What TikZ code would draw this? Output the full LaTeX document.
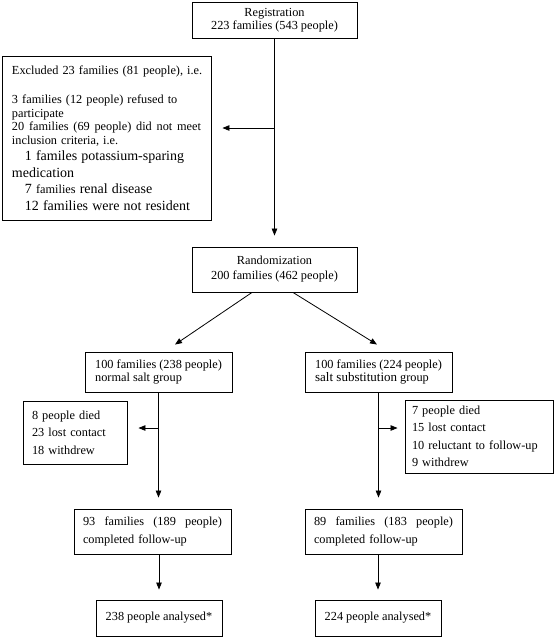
\documentclass[tikz,border=0pt]{standalone}
\usepackage{fontspec}
\setmainfont{Liberation Serif}
\usetikzlibrary{arrows.meta,calc}
\setlength{\parindent}{0pt}
\newcommand\fsA{\fontsize{12.3}{13.5}\selectfont}
\newcommand\fsB{\fontsize{14}{16.5}\selectfont}
\newcommand\fsD{\fontsize{12.3}{17.5}\selectfont}
\begin{document}
\begin{tikzpicture}[x=1pt,y=1pt,
  box/.style={draw, line width=0.9pt, inner sep=0pt, font=\fsA},
  arr/.style={line width=0.8pt, -{Triangle[length=7pt,width=5.5pt]}}]
\useasboundingbox (0,0) rectangle (554,-638);

\node[box, minimum width=165pt, minimum height=36pt, align=center,
      font=\fontsize{12.3}{13}\selectfont] (reg) at (274.5,-20)
  {Registration\\223 families (543 people)};

\node[box, minimum width=209pt, minimum height=164pt, text width=189pt, align=left] (excl) at (106.5,-138)
  {\fsA \hbox to 189pt{Excluded 23 families (81 people), i.e.\hss}\par
   \vspace{15.5pt}
   3 families (12 people) refused to\par
   participate\par
   \hbox to 189pt{20\hfill families\hfill (69\hfill people)\hfill did\hfill not\hfill meet}\par
   inclusion criteria, i.e.\par
   {\fsB\hspace*{13pt}1 familes potassium-sparing\par
   medication\par
   \hspace*{13pt}7 {\fsA families} renal disease\par
   \hspace*{13pt}12 families were not resident\par}};

\node[box, minimum width=165pt, minimum height=45pt, align=center,
      font=\fontsize{12.3}{15}\selectfont] (rand) at (274.5,-269.5)
  {Randomization\\200 families (462 people)};

\node[box, minimum width=147pt, minimum height=40pt, align=left,
      font=\fontsize{12.3}{13}\selectfont] (gl) at (158.5,-372)
  {100 families (238 people)\\normal salt group};
\node[box, minimum width=147pt, minimum height=40pt, align=left,
      font=\fontsize{12.3}{13}\selectfont] (gr) at (378.5,-372)
  {100 families (224 people)\\{\fontsize{13}{13}\selectfont salt substitution} group};

\node[box, minimum width=104pt, minimum height=63pt, text width=86pt, align=left, font=\fsD] (dl) at (75,-432.5)
  {8 people died\\23 lost contact\\18 withdrew};
\node[box, minimum width=148pt, minimum height=73pt, text width=134pt, align=left, font=\fsD] (dr) at (479,-436.5)
  {7 people died\\15 lost contact\\10 reluctant to follow-up\\9 withdrew};

\node[box, minimum width=157pt, minimum height=45pt, text width=139pt, align=left, font=\fsD] (cl) at (152.5,-531.5)
  {\hbox to 139pt{93\hfill families\hfill (189\hfill people)}\\completed follow-up};
\node[box, minimum width=157pt, minimum height=45pt, text width=139pt, align=left, font=\fsD] (cr) at (383.5,-531.5)
  {\hbox to 139pt{89\hfill families\hfill (183\hfill people)}\\completed follow-up};

\node[box, minimum width=126pt, minimum height=36pt] (al) at (159,-618) {238 people analysed*};
\node[box, minimum width=126pt, minimum height=36pt] (ar) at (378,-618) {224 people analysed*};

% connectors
\draw[arr, shorten >=11pt] (reg.south) -- (rand.north);
\coordinate (exT) at ($(excl.east)+(11,10)$);
\draw[arr] (reg.south |- exT) -- (exT);

\draw[arr] ($(rand.south)+(-22.5,0)$) -- ($(gl.north)+(16.5,7)$);
\draw[arr] ($(rand.south)+(18.5,0)$) -- ($(gr.north)+(-1.5,7)$);

\draw[arr, shorten >=11pt] (gl.south) -- (gl.south |- cl.north);
\draw[arr, shorten >=11pt] (gr.south) -- (gr.south |- cr.north);

\coordinate (dlT) at ($(dl.east)+(11,4.5)$);
\draw[arr] (gl.south |- dlT) -- (dlT);
\coordinate (drT) at ($(dr.west)+(-7,8.5)$);
\draw[arr] (gr.south |- drT) -- (drT);

\draw[arr, shorten >=10pt] (al.north |- cl.south) -- (al.north);
\draw[arr, shorten >=10pt] (ar.north |- cr.south) -- (ar.north);
\end{tikzpicture}
\end{document}
